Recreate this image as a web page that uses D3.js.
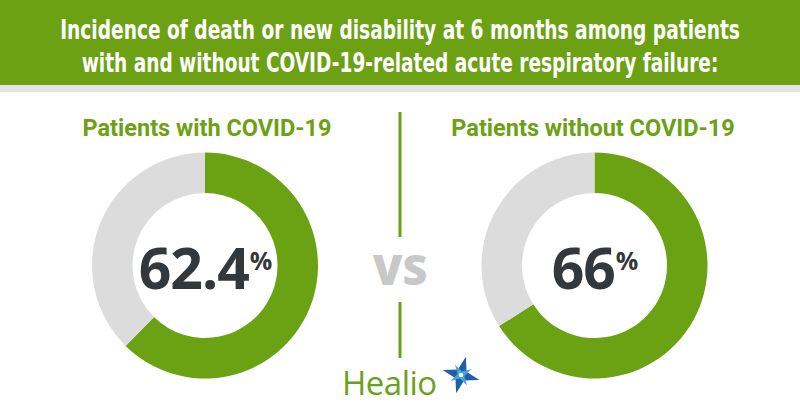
<!DOCTYPE html>
<html>
<head>
<meta charset="utf-8">
<script src="https://cdn.jsdelivr.net/npm/d3@7/dist/d3.min.js"></script>
<style>
  html, body { margin: 0; padding: 0; background: #fff; }
  svg { display: block; }
</style>
</head>
<body>
<svg id="chart" width="800" height="420"></svg>
<script>
// ---- data ----
const titleLines = [
  "Incidence of death or new disability at 6 months among patients",
  "with and without COVID-19-related acute respiratory failure:"
];
const categories = ["Patients with COVID-19", "Patients without COVID-19"];
const values = [62.4, 66];
const valueLabels = ["62.4", "66"];
const vsLabel = "VS";
const brand = "Healio";

// ---- style ----
const green = "#6ca113";
const ringGreen = "#6aa214";
const ringGray = "#dcdcdc";
const darkText = "#33383c";

const svg = d3.select("#chart");
const W = 800, H = 420;

// header band
svg.append("rect").attr("x", 0).attr("y", 0).attr("width", W).attr("height", 85).attr("fill", green);
svg.append("rect").attr("x", 0).attr("y", 85).attr("width", W).attr("height", 7).attr("fill", "#e4e4e4");

const titleWidths = [680, 637];
const titleBase = [39, 72];
titleLines.forEach((t, i) => {
  const g = svg.append("g");
  const txt = g.append("text")
    .attr("x", 0).attr("y", 0)
    .attr("text-anchor", "middle")
    .attr("fill", "#fff")
    .attr("font-family", "'DejaVu Sans Condensed','Liberation Sans Narrow','Roboto',sans-serif")
    .attr("font-stretch", "condensed")
    .attr("font-weight", "bold")
    .attr("font-size", 26)
    .text(t);
  const natural = txt.node().getComputedTextLength();
  const sx = titleWidths[i] / natural;
  g.attr("transform", `translate(${W / 2},${titleBase[i]}) scale(${sx},1)`);
});

// panels
const x = d3.scalePoint().domain(categories).range([205, 594.5]);
const cy = 265.5;
const outerR = 113, innerR = 72.5;
const pie = d3.pie().sort(null).value(d => d);
const arc = d3.arc().innerRadius(innerR).outerRadius(outerR);

categories.forEach((c, i) => {
  const cx = x(c);
  // subtitle
  svg.append("text")
    .attr("x", cx - (i === 0 ? -2 : 1.5)).attr("y", 136)
    .attr("text-anchor", "middle")
    .attr("fill", green)
    .attr("font-family", "Roboto, 'Open Sans', sans-serif")
    .attr("font-weight", "bold")
    .attr("font-size", 23.5)
    .text(c);

  const g = svg.append("g").attr("transform", `translate(${cx},${cy})`);
  g.selectAll("path")
    .data(pie([values[i], 100 - values[i]]))
    .join("path")
    .attr("d", arc)
    .attr("fill", (d, j) => j === 0 ? ringGreen : ringGray);

  const t = g.append("text")
    .attr("x", 0).attr("y", 23.5)
    .attr("text-anchor", "middle")
    .attr("fill", darkText)
    .attr("font-family", "'Open Sans', 'Liberation Sans', sans-serif")
    .attr("font-weight", "bold")
    .attr("font-size", 57)
    .attr("letter-spacing", -1);
  t.append("tspan").text(valueLabels[i]);
  t.append("tspan")
    .attr("font-size", 25)
    .attr("dy", -19)
    .attr("dx", 1)
    .text("%");
});

// divider and VS
svg.append("line").attr("x1", 400).attr("x2", 400).attr("y1", 112).attr("y2", 237)
  .attr("stroke", green).attr("stroke-width", 3);
svg.append("line").attr("x1", 400).attr("x2", 400).attr("y1", 302).attr("y2", 358)
  .attr("stroke", green).attr("stroke-width", 3);
svg.append("text")
  .attr("x", 400).attr("y", 285)
  .attr("text-anchor", "middle")
  .attr("fill", "#c8c8c8")
  .attr("font-family", "'Open Sans', 'Liberation Sans', sans-serif")
  .attr("font-weight", 800)
  .attr("font-size", 43)
  .text(vsLabel);

// logo
svg.append("text")
  .attr("x", 342).attr("y", 395)
  .attr("fill", "#6aa21c")
  .attr("font-family", "'Open Sans', 'Lato', sans-serif")
  .attr("font-weight", 500)
  .attr("font-size", 33)
  .attr("letter-spacing", -0.5)
  .text(brand);

// star mark
const star = svg.append("g").attr("transform", "translate(461,375)");
const big = "M0,-19 L4.5,-4.5 L19,0 L4.5,4.5 L0,19 L-4.5,4.5 L-19,0 L-4.5,-4.5 Z";
star.append("path").attr("d", big).attr("fill", "#1f5ea8").attr("transform", "rotate(15)");
star.append("path").attr("d", "M0,-12 L2.5,-2.5 L12,0 L2.5,2.5 L0,12 L-2.5,2.5 L-12,0 L-2.5,-2.5 Z")
  .attr("fill", "#4aa3d8").attr("transform", "rotate(60)");
star.append("circle").attr("r", 2.2).attr("fill", "#fff");
</script>
</body>
</html>
